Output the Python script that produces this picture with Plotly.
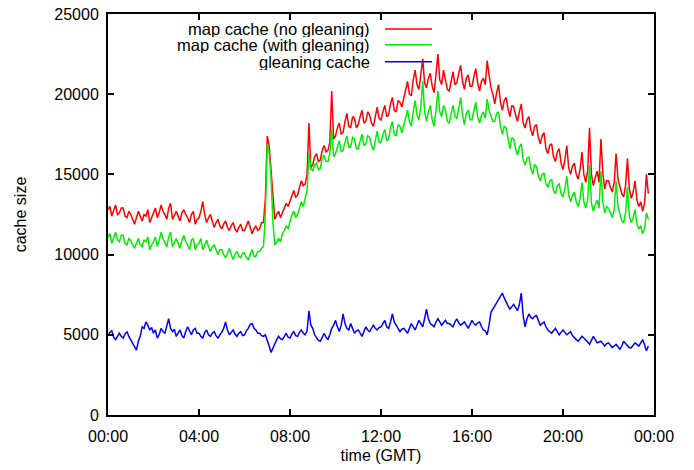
import plotly.graph_objects as go

# ---- data: 5-minute samples from 00:00 GMT (ends ~23:45) ----
step_minutes = 5

map_no_gleaning = [
    12800, 13000, 12400, 12700, 13100, 12500, 12600, 12900, 12900, 12400, 12300, 12700,  # 0h
    12500, 12200, 11900, 12300, 12700, 12400, 12100, 12500, 12400, 12800, 12000, 12300,  # 1h
    12600, 12900, 12300, 12600, 13100, 12700, 12500, 12200, 12900, 13200, 12200, 12500,  # 2h
    12700, 12400, 12100, 12600, 12800, 12500, 12300, 12000, 12500, 12700, 11900, 12200,  # 3h
    12300, 12700, 13300, 12500, 12000, 12300, 12500, 12100, 11700, 12000, 12200, 11800,  # 4h
    11600, 11900, 12100, 11700, 11500, 11800, 12000, 11600, 11400, 11700, 11900, 11500,  # 5h
    11500, 11800, 12100, 11700, 11300, 11600, 11800, 11500, 11600, 12000, 12000, 13500,  # 6h
    17400, 16800, 15200, 13500, 12200, 12500, 12700, 12300, 12600, 13000, 13200, 13000,  # 7h
    13300, 13700, 14000, 13600, 13700, 14200, 14600, 14300, 14400, 15000, 18200, 15400,  # 8h
    15600, 16100, 16300, 15800, 15900, 16500, 16800, 16400, 16500, 17000, 20200, 17200,  # 9h
    17400, 17900, 18200, 17500, 17600, 18300, 18800, 18000, 17900, 18600, 18500, 17900,  # 10h
    18100, 18600, 19000, 18200, 18300, 18900, 18700, 18200, 18000, 18600, 19200, 18500,  # 11h
    18400, 18900, 19300, 18600, 18700, 19400, 19800, 19000, 18900, 19600, 19500, 19200,  # 12h
    19700, 20300, 20800, 20000, 19900, 20900, 21500, 20600, 20300, 21200, 22200, 20700,  # 13h
    20400, 21000, 21300, 20500, 20100, 21200, 22500, 20900, 20600, 21500, 21000, 20300,  # 14h
    20200, 20900, 21400, 20600, 20700, 21300, 21800, 20800, 20300, 21000, 21200, 20500,  # 15h
    20500, 21100, 21600, 20700, 20200, 20800, 21000, 20600, 22100, 21200, 20400, 20000,  # 16h
    19400, 20100, 20600, 19500, 19000, 19600, 19800, 19100, 18600, 19300, 19200, 18700,  # 17h
    18300, 18900, 19400, 18200, 17900, 18400, 18600, 17800, 17400, 18000, 18100, 17300,  # 18h
    16900, 17400, 17600, 16600, 16300, 16800, 16900, 16100, 15800, 16400, 16600, 15700,  # 19h
    15300, 15900, 16800, 15400, 15000, 15500, 15700, 15000, 14700, 15300, 16400, 15000,  # 20h
    14500, 15200, 17900, 15000, 14300, 14800, 15200, 14500, 17200, 15100, 14100, 14600,  # 21h
    14600, 14200, 13900, 14500, 16300, 14700, 14200, 13800, 13600, 14300, 16000, 14100,  # 22h
    13500, 13900, 14600, 13400, 13000, 13300, 12700, 13200, 15000, 13800,                # 23h
]

map_with_gleaning = [
    11100, 11300, 10700, 11000, 11400, 10900, 10800, 11200, 11200, 10700, 10600, 11000,  # 0h
    10900, 10600, 10400, 10700, 11000, 10600, 10500, 10900, 10800, 11100, 10300, 10600,  # 1h
    10800, 11100, 10500, 10900, 11400, 11000, 10700, 10500, 11100, 11400, 10500, 10800,  # 2h
    11000, 10700, 10400, 10900, 11200, 10800, 10600, 10300, 10900, 11000, 10300, 10600,  # 3h
    10700, 11000, 10300, 10600, 10900, 10500, 10200, 10500, 10600, 10300, 10000, 10300,  # 4h
    10300, 10000, 9800, 10100, 10400, 10000, 9700, 10000, 10200, 9900, 9800, 10100,      # 5h
    10100, 9800, 9700, 10000, 10300, 9900, 9900, 10200, 10200, 10400, 10500, 12500,      # 6h
    16900, 16300, 14800, 12000, 10600, 10800, 11000, 10800, 11300, 11500, 11800, 11600,  # 7h
    12100, 12500, 12700, 12300, 12500, 13000, 13300, 13000, 13500, 14000, 16300, 15400,  # 8h
    15200, 15600, 15700, 15300, 15400, 16000, 16200, 15800, 15800, 16300, 17800, 16100,  # 9h
    16300, 16800, 17100, 16400, 16500, 17000, 17400, 16700, 16700, 17300, 17200, 16600,  # 10h
    16600, 17100, 17500, 16800, 16900, 17400, 17300, 16800, 16500, 17100, 17700, 17000,  # 11h
    17000, 17500, 17800, 17100, 17200, 17900, 18300, 17500, 17400, 18100, 18000, 17600,  # 12h
    18100, 18600, 19000, 18300, 18000, 18900, 19600, 18700, 18400, 19200, 20800, 18900,  # 13h
    18300, 18900, 19300, 18400, 18000, 19000, 20200, 18900, 18600, 19300, 19000, 18300,  # 14h
    18200, 18800, 19300, 18600, 18500, 19100, 19800, 18700, 18100, 18800, 19000, 18400,  # 15h
    18400, 19000, 19500, 18600, 18200, 18700, 18900, 18500, 19700, 19000, 18600, 18300,  # 16h
    18300, 18800, 18900, 18000, 17500, 18000, 17900, 17200, 16600, 17300, 17200, 16600,  # 17h
    16200, 16700, 16900, 15900, 15600, 16000, 16100, 15400, 15000, 15600, 15500, 14900,  # 18h
    14600, 15000, 15100, 14400, 14200, 14600, 14700, 14000, 13800, 14300, 14400, 13800,  # 19h
    13600, 14100, 14900, 13700, 13300, 13700, 13900, 13300, 13000, 13500, 14500, 13300,  # 20h
    12900, 13400, 15600, 13200, 12700, 13100, 13400, 12900, 15200, 13300, 12600, 13000,  # 21h
    12900, 12600, 12300, 12800, 14600, 13000, 12500, 12100, 12000, 12600, 14200, 12400,  # 22h
    12000, 12300, 12800, 11900, 11600, 11800, 11300, 11600, 12600, 12200,                # 23h
]

gleaning_cache = [
    4950, 5150, 5250, 4850, 4700, 4950, 5100, 4900, 4800, 5050, 5200, 4900,  # 0h
    4700, 4500, 4300, 4050, 4600, 4900, 5500, 5400, 5800, 5600, 5300, 5450,  # 1h
    5100, 5300, 4800, 5000, 5400, 5200, 5100, 5550, 6000, 5400, 5200, 5350,  # 2h
    4900, 5100, 5300, 4950, 4800, 5200, 5500, 5250, 5000, 5300, 5400, 5100,  # 3h
    5100, 4900, 4800, 5150, 5300, 5000, 4900, 5100, 5200, 4950, 4800, 5000,  # 4h
    5150, 5400, 5800, 5300, 5000, 5150, 5300, 5050, 4900, 5100, 5200, 4950,  # 5h
    5000, 5250, 5400, 5650, 5700, 5400, 5300, 5100, 5100, 4950, 4900, 5000,  # 6h
    4700, 4300, 3900, 4200, 4400, 4700, 4900, 4750, 4700, 4950, 5100, 4850,  # 7h
    4800, 5050, 5200, 4950, 4900, 5150, 5300, 5100, 5000, 5250, 6500, 5600,  # 8h
    5400, 5000, 4800, 4650, 4600, 4900, 5100, 4850, 4700, 5000, 5400, 5600,  # 9h
    5900, 5500, 5200, 5600, 6300, 5700, 5400, 5300, 5700, 5400, 5100, 5250,  # 10h
    5300, 5100, 4900, 5200, 5500, 5300, 5200, 5400, 5600, 5400, 5300, 5450,  # 11h
    5500, 5700, 5900, 5500, 5400, 5800, 6300, 5800, 5600, 5400, 5200, 5350,  # 12h
    5400, 5250, 5100, 5400, 5700, 5500, 5300, 5600, 5900, 5700, 5500, 6000,  # 13h
    6600, 6000, 5700, 5600, 5500, 5800, 6000, 5800, 5600, 5750, 5900, 5700,  # 14h
    5700, 5600, 5500, 5800, 6000, 5750, 5600, 5700, 5800, 5600, 5400, 5650,  # 15h
    5900, 5700, 5600, 5750, 5800, 5500, 5300, 5250, 5000, 5600, 6400, 6600,  # 16h
    6800, 7000, 7200, 7400, 7600, 7300, 7000, 6800, 6600, 6750, 6900, 6700,  # 17h
    6500, 6900, 7600, 6200, 5500, 6000, 6300, 6100, 6000, 6150, 6200, 5900,  # 18h
    5600, 5700, 5800, 5500, 5300, 5200, 5100, 5250, 5400, 5200, 5000, 5150,  # 19h
    5300, 5150, 5000, 5100, 5200, 4950, 4800, 4700, 4600, 4750, 4900, 4800,  # 20h
    4700, 4550, 4400, 4650, 4900, 4700, 4500, 4550, 4600, 4450, 4300, 4450,  # 21h
    4500, 4350, 4200, 4300, 4400, 4250, 4100, 4300, 4600, 4450, 4300, 4200,  # 22h
    4200, 4350, 4500, 4400, 4300, 4500, 4700, 4400, 4000, 4300,              # 23h
]

series_names = ["map cache (no gleaning)", "map cache (with gleaning)", "gleaning cache"]
series_colors = ["#ff0000", "#00ee00", "#0000ff"]

x_tick_hours = [0, 4, 8, 12, 16, 20, 24]
x_tick_labels = ["00:00", "04:00", "08:00", "12:00", "16:00", "20:00", "00:00"]
y_ticks = [0, 5000, 10000, 15000, 20000, 25000]

FONT = "Liberation Sans"
fig = go.Figure()
for vals, name, col in zip([map_no_gleaning, map_with_gleaning, gleaning_cache],
                           series_names, series_colors):
    hrs = [i * step_minutes / 60 for i in range(len(vals))]
    fig.add_trace(go.Scatter(x=hrs, y=vals, mode="lines", name=name,
                             line=dict(color=col, width=1.5), showlegend=False))

# gnuplot-like key: right-aligned text with line samples, top of the plot
key_y = [0.9628, 0.9231, 0.8809]
for name, col, yy in zip(series_names, series_colors, key_y):
    fig.add_annotation(x=0.4835, y=yy, xref="paper", yref="paper", text=name,
                       showarrow=False, xanchor="right", yanchor="middle",
                       height=16, valign="middle",
                       font=dict(family=FONT, size=16.5, color="black"))
    fig.add_shape(type="line", xref="paper", yref="paper", x0=0.5073, x1=0.5934,
                  y0=yy, y1=yy, line=dict(color=col, width=1.5))

axis_common = dict(showline=True, linecolor="black", linewidth=2, mirror="ticks",
                   ticks="inside", ticklen=6, tickwidth=2, tickcolor="black",
                   showgrid=False, zeroline=False, automargin=False,
                   ticklabeloverflow="allow",
                   tickfont=dict(family=FONT, size=16, color="black"))

fig.update_xaxes(range=[0, 24], tickvals=x_tick_hours, ticktext=x_tick_labels,
                 title=dict(text="time (GMT)", font=dict(family=FONT, size=16, color="black"),
                            standoff=6),
                 ticklabelstandoff=6, **axis_common)
fig.update_yaxes(range=[0, 25000], tickvals=y_ticks, ticktext=[str(v) for v in y_ticks],
                 title=dict(text="cache size", font=dict(family=FONT, size=16, color="black"),
                            standoff=24),
                 ticklabelstandoff=4, **axis_common)

# the page body adds an 8px offset, so margins are shifted to land the plot box at
# about x 108..654, y 14..415 in the 694x470 window
fig.update_layout(width=694, height=470, margin=dict(l=100, r=48, t=6, b=63),
                  plot_bgcolor="white", paper_bgcolor="white",
                  font=dict(family=FONT, size=16, color="black"))

fig.write_html("out.html")
